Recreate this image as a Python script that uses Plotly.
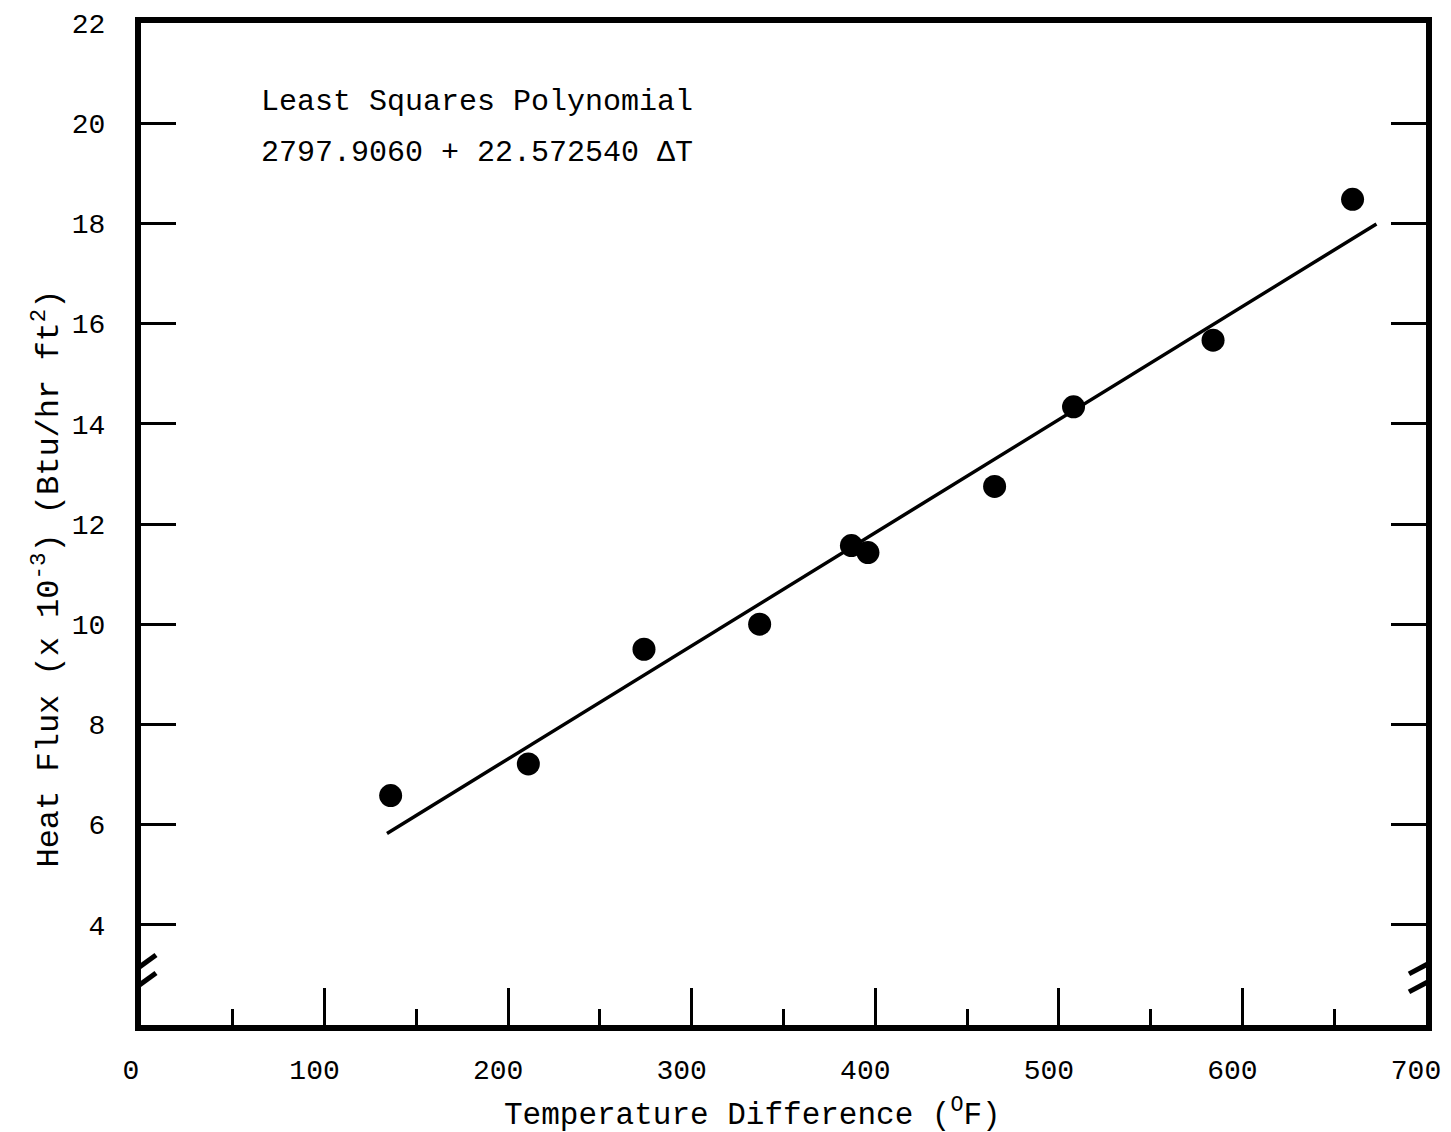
import plotly.graph_objects as go

# Data
delta_t = [136, 211, 274, 337, 387, 396, 465, 508, 584, 660]
heat_flux = [6.58, 7.21, 9.50, 10.00, 11.57, 11.43, 12.75, 14.34, 15.67, 18.48]

# Least squares polynomial: q = a + b*dT  (Btu/hr ft^2)
coef_a = 2797.9060
coef_b = 22.572540
fit_range = [134, 673]
fit_y = [(coef_a + coef_b * t) / 1000.0 for t in fit_range]

x_ticks = [0, 100, 200, 300, 400, 500, 600, 700]
y_ticks = [4, 6, 8, 10, 12, 14, 16, 18, 20, 22]
y_break = 3

MONO = "Liberation Mono, Courier New, monospace"

L, R, T, B = 141, 10, 22, 107
W, H = 1451, 1132
PW, PH = W - L - R, H - T - B

fig = go.Figure()
fig.add_trace(go.Scatter(x=fit_range, y=fit_y, mode="lines",
                         line=dict(color="black", width=3.5), showlegend=False))
fig.add_trace(go.Scatter(x=delta_t, y=heat_flux, mode="markers",
                         marker=dict(color="black", size=23), showlegend=False))

fig.update_layout(
    width=W, height=H,
    margin=dict(l=L, r=R, t=T, b=B),
    plot_bgcolor="white", paper_bgcolor="white",
    font=dict(family=MONO, color="black", size=28),
    xaxis=dict(range=[0, 700], tickvals=x_ticks, ticktext=[str(v) for v in x_ticks],
               showline=True, linecolor="black", linewidth=6, mirror=True,
               ticks="inside", ticklen=37, tickwidth=3, tickcolor="black",
               minor=dict(ticks="inside", ticklen=16, tickwidth=3, tickcolor="black", dtick=50),
               showgrid=False, zeroline=False, ticklabelstandoff=14,
               ticklabelshift=-10, ticklabeloverflow="allow",
               tickfont=dict(size=28, family=MONO)),
    yaxis=dict(range=[2, 22], tickvals=y_ticks, ticktext=[str(v) for v in y_ticks],
               showline=True, linecolor="black", linewidth=6, mirror="ticks",
               ticks="inside", ticklen=35, tickwidth=3, tickcolor="black",
               showgrid=False, zeroline=False, ticklabelstandoff=24,
               ticklabeloverflow="allow",
               tickfont=dict(size=28, family=MONO)),
)

# Axis titles placed as in the reference
fig.add_annotation(xref="paper", yref="paper", x=(760 - L) / PW, y=(H - B - 1113) / PH,
                   xanchor="center", yanchor="middle", showarrow=False,
                   text="Temperature Difference (<sup>O</sup>F)", font=dict(size=31, family=MONO))
fig.add_annotation(xref="paper", yref="paper", x=(46 - L) / PW, y=(H - B - 578) / PH,
                   xanchor="center", yanchor="middle", showarrow=False, textangle=-90,
                   text="Heat Flux (x 10<sup>-3</sup>) (Btu/hr ft<sup>2</sup>)",
                   font=dict(size=32, family=MONO))

# Axis break marks (pixel-sized, anchored at the break value on both frame sides)
for xa, dx, sl in [(0, 0, 11), (700, -2, 8)]:
    fig.add_shape(type="rect", xref="x", yref="y", xsizemode="pixel", ysizemode="pixel",
                  xanchor=xa, yanchor=y_break, x0=-5, x1=5, y0=-8, y1=8,
                  fillcolor="white", line=dict(width=0), layer="above")
    for dy in [9, -9]:
        fig.add_shape(type="line", xref="x", yref="y", xsizemode="pixel", ysizemode="pixel",
                      xanchor=xa, yanchor=y_break, x0=dx - 15, x1=dx + 15,
                      y0=dy - sl, y1=dy + sl,
                      line=dict(color="black", width=5), layer="above")

fig.add_annotation(xref="paper", yref="paper", x=(260 - L) / PW, y=(H - B - 101) / PH,
                   xanchor="left", yanchor="middle", showarrow=False,
                   text="Least Squares Polynomial", font=dict(size=30, family=MONO))
fig.add_annotation(xref="paper", yref="paper", x=(260 - L) / PW, y=(H - B - 152) / PH,
                   xanchor="left", yanchor="middle", showarrow=False,
                   text="2797.9060 + 22.572540 ΔT", font=dict(size=30, family=MONO))

fig.write_html(
    "out.html",
    config={"displayModeBar": False},
    post_script=("document.body.style.margin='0';"
                 "document.body.style.overflow='hidden';"
                 "document.documentElement.style.overflow='hidden';"),
)
